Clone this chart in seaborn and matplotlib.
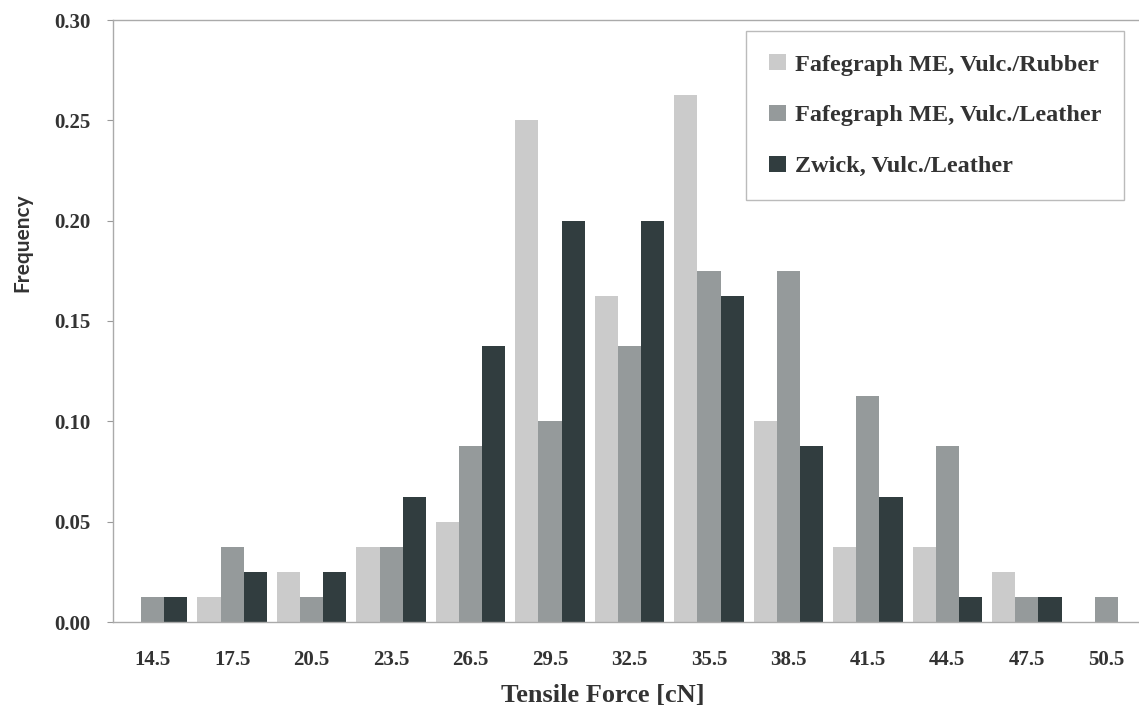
import pandas as pd
import matplotlib.pyplot as plt
import seaborn as sns

# Tensile force bins and relative frequencies per tester
forces = ["14.5", "17.5", "20.5", "23.5", "26.5", "29.5", "32.5",
          "35.5", "38.5", "41.5", "44.5", "47.5", "50.5"]
rubber = [0.0, 0.0125, 0.025, 0.0375, 0.05, 0.25, 0.1625,
          0.2625, 0.1, 0.0375, 0.0375, 0.025, 0.0]
leather = [0.0125, 0.0375, 0.0125, 0.0375, 0.0875, 0.1, 0.1375,
           0.175, 0.175, 0.1125, 0.0875, 0.0125, 0.0125]
zwick = [0.0125, 0.025, 0.025, 0.0625, 0.1375, 0.2, 0.2,
         0.1625, 0.0875, 0.0625, 0.0125, 0.0125, 0.0]
series = ["Fafegraph ME, Vulc./Rubber", "Fafegraph ME, Vulc./Leather",
          "Zwick, Vulc./Leather"]

df = pd.DataFrame({
    "force": forces * 3,
    "freq": rubber + leather + zwick,
    "series": [series[0]] * len(forces) + [series[1]] * len(forces) + [series[2]] * len(forces),
})

sns.set_style("white")
plt.rcParams["font.family"] = ["Liberation Serif", "DejaVu Serif"]

fig = plt.figure(figsize=(11.39, 7.14), dpi=100)
ax = fig.add_axes([113 / 1139, 92 / 714, 1033 / 1139, 602 / 714])

sns.barplot(data=df, x="force", y="freq", hue="series", order=forces,
            hue_order=series, palette=["#cbcbcb", "#959a9b", "#313d3f"],
            width=0.875, saturation=1, linewidth=0, ax=ax)

ax.set_ylim(0, 0.30)
ax.set_yticks([0, 0.05, 0.10, 0.15, 0.20, 0.25, 0.30])
ax.set_yticklabels(["0.00", "0.05", "0.10", "0.15", "0.20", "0.25", "0.30"])
ax.tick_params(axis="y", labelsize=15, length=4, left=True, color="#999999", pad=12)
ax.tick_params(axis="x", labelsize=15, length=0, pad=20)
for lab in ax.get_xticklabels() + ax.get_yticklabels():
    lab.set_fontweight("bold")
    lab.set_color("#333333")
for s in ax.spines.values():
    s.set_color("#aaaaaa")
    s.set_linewidth(1)

ax.set_xlabel("Tensile Force [cN]", fontsize=19, fontweight="bold", color="#333333")
ax.xaxis.set_label_coords(0.474, -0.103)
ax.set_ylabel("Frequency", fontsize=15, fontweight="bold", color="#333333",
              family=["Lato", "DejaVu Sans"])
ax.yaxis.set_label_coords(-0.078, 0.63)

leg = ax.legend(loc="upper right", bbox_to_anchor=(1124 / 1033 - 113 / 1033, 0.982),
                fontsize=17.5, frameon=True, fancybox=False, edgecolor="#aaaaaa",
                handlelength=0.7, handleheight=0.65, handletextpad=0.35,
                labelspacing=1.2, borderpad=0.95, borderaxespad=0)
leg.get_frame().set_linewidth(1)
for t in leg.get_texts():
    t.set_fontweight("bold")
    t.set_color("#333333")

plt.savefig("out.png", dpi=100)
plt.close()
